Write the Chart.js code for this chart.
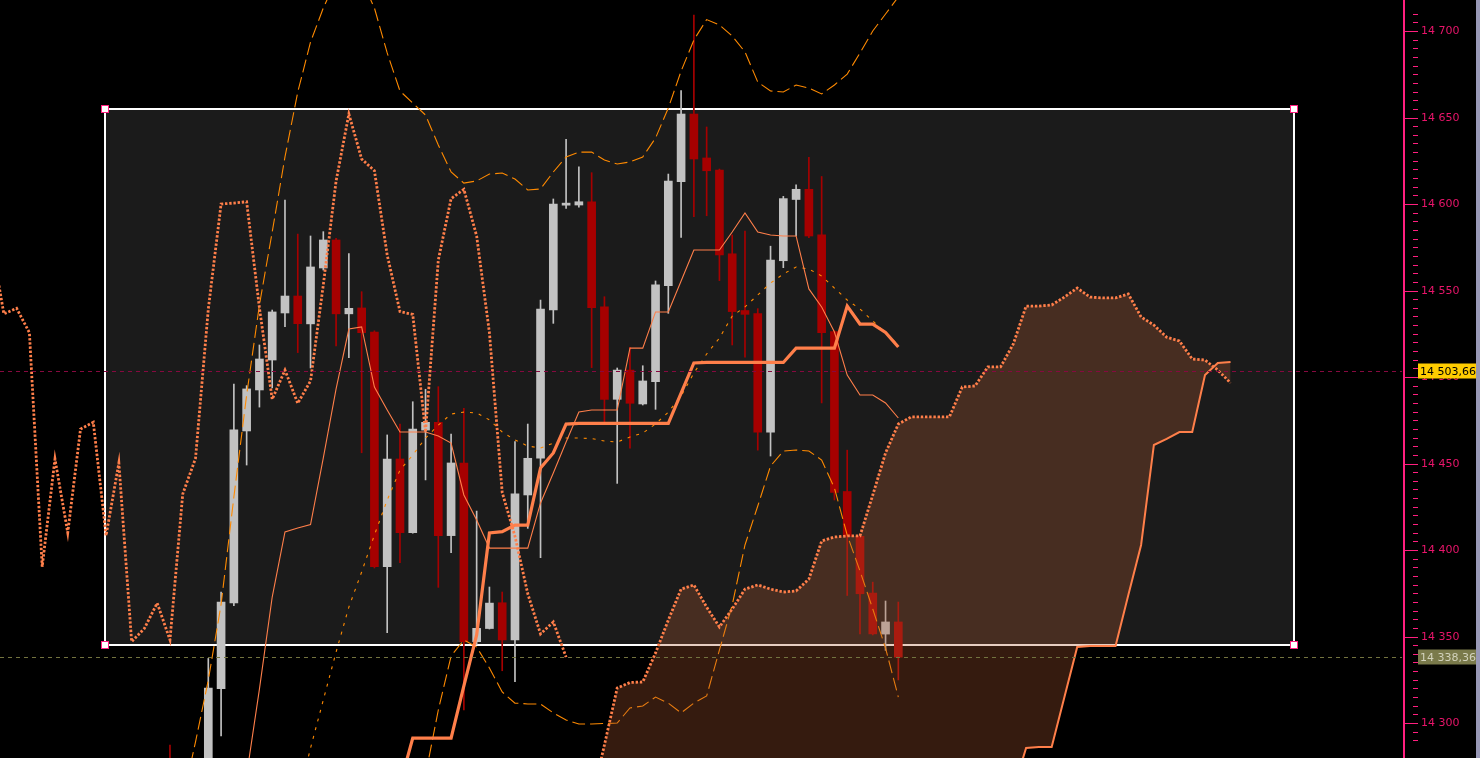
<!DOCTYPE html>
<html>
<head>
<meta charset="utf-8">
<script src="https://cdn.jsdelivr.net/npm/chart.js@4.4.0/dist/chart.umd.min.js"></script>
<style>
html,body{margin:0;padding:0;background:#000;overflow:hidden;}
canvas{display:block;}
</style>
</head>
<body>
<canvas id="c" width="1480" height="758"></canvas>
<script>
// ---------------- DATA ----------------
// bar slots (candle index); chikou is drawn 26 slots back, the cloud 26 slots forward
const slots = [-3,-2,-1,0,1,2,3,4,5,6,7,8,9,10,11,12,13,14,15,16,17,18,19,20,21,22,23,24,25,26,27,28,29,30,31,32,33,34,35,36,37,38,39,40,41,42,43,44,45,46,47,48,49,50,51,52,53,54];
const opens  = [14275,14264,14256,14266,14320.1,14369.7,14469.1,14492.8,14510.1,14537.3,14547.1,14531.0,14563.3,14579.5,14536.8,14540.2,14526.3,14390.6,14452.9,14410.3,14469.6,14474.1,14408.6,14450.6,14347.3,14354.9,14369.8,14348.3,14432.1,14453.3,14539.0,14599.6,14599.7,14601.6,14540.8,14487.4,14504.3,14484.7,14497.6,14553.1,14613.2,14652.3,14626.9,14619.9,14571.5,14538.7,14537.0,14468.4,14567.5,14602.9,14608.8,14582.4,14526.6,14434.1,14408.2,14375.4,14351.7,14358.7];
const highs  = [14287.6,14274,14272,14337.6,14376.0,14496.2,14495.3,14518.8,14539.0,14602.6,14582.9,14581.8,14584.3,14580.5,14571.6,14549.6,14527.0,14466.8,14473.1,14486.0,14493.2,14494.7,14467.3,14482.2,14422.8,14378.9,14376.0,14462.9,14473.1,14544.8,14603.2,14637.7,14621.8,14618.4,14546.7,14505.5,14517.5,14506.8,14555.8,14617.6,14665.8,14709.5,14644.8,14620.5,14582.4,14584.7,14539.8,14575.9,14604.7,14611.3,14627.2,14616.2,14527.0,14458.0,14408.6,14381.7,14370.8,14370.2];
const lows   = [14255,14248,14245,14262,14292.8,14368.1,14449.4,14482.9,14494.0,14529.4,14514.4,14505.5,14562.1,14518.2,14511.4,14456.5,14389.9,14352.5,14392.9,14410.0,14440.8,14378.7,14398.7,14307.8,14345.5,14354.6,14330.5,14324.2,14412.8,14395.8,14531.3,14597.8,14598.4,14505.7,14473.5,14438.8,14459.1,14484.1,14481.6,14537.1,14581.0,14592.9,14593.5,14556.0,14518.8,14511.8,14458.0,14454.6,14563.5,14581.8,14580.8,14485.3,14429.2,14374.0,14351.8,14351.2,14342.3,14325.2];
const closes = [14262,14256,14268,14320.5,14370.2,14469.7,14493.4,14510.7,14537.9,14547.1,14531.1,14563.9,14579.5,14536.8,14540.0,14525.9,14390.6,14452.9,14410.3,14470.2,14474.1,14408.6,14450.6,14347.3,14355.0,14369.6,14348.3,14432.7,14453.3,14539.6,14600.3,14600.8,14601.6,14540.3,14487.4,14504.3,14485.1,14498.0,14553.5,14613.6,14652.3,14626.3,14619.5,14570.8,14538.1,14536.5,14468.4,14567.9,14603.4,14608.8,14581.8,14525.9,14433.6,14408.2,14375.0,14351.8,14358.7,14338.36];

const tenkan = [null,null,null,14235,14245,14258,14270.2,14319.9,14373.1,14410.7,14413.0,14415.0,14453.5,14493.4,14528.0,14529.2,14494.5,14481.2,14468.5,14468.5,14468.5,14466.2,14462.1,14432.1,14417.6,14401.4,14401.4,14401.4,14401.4,14427.5,14444.8,14462.7,14480.1,14481.2,14481.2,14481.2,14517.0,14517.0,14537.9,14537.9,14555.8,14573.7,14573.7,14573.7,14584.1,14595.1,14584.1,14582.4,14581.8,14581.8,14551.2,14540.8,14526.3,14501.4,14489.9,14489.9,14485.3,14476.6];
const kijun  = [null,null,null,14192,14192,14192,14192,14192,14202,14230,14230,14230,14230,14230,14230,14230,14230,14230,14264.5,14291.6,14291.6,14291.6,14291.6,14321.7,14351.2,14410.1,14410.9,14414.7,14414.7,14447.7,14456.4,14473.1,14473.5,14473.5,14473.5,14473.5,14473.5,14473.5,14473.5,14473.5,14491.0,14508.4,14508.7,14508.7,14508.7,14508.7,14508.7,14508.7,14508.7,14517.0,14517.0,14517.0,14517.0,14541.3,14530.9,14530.9,14526.0,14517.6];

const bbUpper = [null,14255.8,14289.4,14325.1,14368.8,14430.9,14489.9,14541.9,14584.1,14627.5,14665.0,14693.9,14713.6,14729.8,14735.5,14729.8,14713.6,14687.6,14665.6,14658.6,14651.7,14634.4,14618.8,14612.4,14613.6,14617.6,14618.2,14614.7,14608.4,14609.0,14618.8,14627.5,14630.3,14630.3,14625.7,14623.4,14624.6,14627.5,14638.4,14655.8,14677.1,14695.1,14706.9,14703.8,14697.4,14688.2,14670.8,14665.6,14665.0,14669.1,14667.3,14663.9,14669.1,14675.4,14687.6,14700.3,14710.1,14720.0];
const bbMid   = [null,null,null,null,null,null,null,null,null,null,14255.8,14285.8,14313.6,14341.3,14367.3,14387.6,14409.0,14429.2,14446.5,14455.2,14465.0,14472.5,14478.9,14480.0,14479.5,14475.5,14468.5,14463.9,14460.4,14459.2,14462.1,14465.0,14465.0,14464.7,14463.3,14462.7,14465.6,14467.9,14473.1,14480.0,14489.3,14502.6,14513.6,14522.8,14535.5,14540.8,14547.7,14554.6,14559.8,14563.9,14562.7,14558.7,14551.7,14544.8,14539.6,14532.7,14525.7,14518.8];
const bbLower = [null,null,null,null,null,null,null,null,null,null,null,null,null,null,null,null,null,null,null,null,14270.2,14307.8,14339.0,14348.3,14344.2,14332.1,14318.2,14311.8,14311.3,14311.3,14306.1,14302.0,14299.7,14299.7,14300.0,14300.3,14309.0,14310.1,14315.3,14311.8,14306.1,14311.8,14315.9,14342.5,14368.5,14403.2,14425.7,14448.8,14457.5,14458.1,14457.5,14452.3,14436.1,14408.9,14388.2,14366.2,14343.6,14315.3];

const cloudSlots = [30,31,32,33,34,35,36,37,38,39,40,41,42,43,44,45,46,47,48,49,50,51,52,53,54,55,56,57,58,59,60,61,62,63,64,65,66,67,68,69,70,71,72,73,74,75,76,77,78,79,80];
const spanA = [14255.8,14287.6,14320.5,14323.7,14324.0,14340.8,14359.8,14377.7,14380.1,14367.3,14355.8,14366.2,14377.7,14380.1,14377.7,14376.0,14376.6,14383.5,14405.5,14407.8,14408.4,14408.4,14432.1,14456.4,14473.1,14477.2,14477.2,14477.2,14477.2,14494.5,14495.1,14506.1,14506.1,14519.4,14541.3,14541.3,14541.9,14546.5,14551.7,14546.5,14546.0,14546.0,14548.3,14535.0,14530.3,14523.3,14521.1,14510.7,14510.1,14504.3,14496.8];
const spanB = [14240,14240,14240,14240,14240,14240,14240,14240,14240,14240,14240,14240,14240,14240,14240,14240,14240,14240,14240,14240,14240,14240,14240,14240,14240,14240,14240,14240,14240,14240,14240,14240,14240,14261.6,14285.9,14286.4,14286.4,14315.3,14344.2,14344.8,14344.8,14344.8,14374.3,14403.2,14461.0,14464.5,14468.5,14468.5,14501.4,14508.4,14509.0];

const chikouShift = 26;
const lastPrice = 14338.36;
const markPrice = 14503.66;
// drawn rectangle (slot / price coordinates)
const zone = { fromSlot: -8.084, toSlot: 84.97, top: 14655.2, bottom: 14345.4 };

// ---------------- STYLE / LAYOUT ----------------
const X_MIN = -16.302, X_MAX = 93.574;
const Y_MIN = 14280.06, Y_MAX = 14718.21;
const UP = '#c2c2c2', DOWN = '#a60000';
const CORAL = '#ff7f4a', BB = '#ff8a00';
const PINK = '#ff1f7f', PINK_TXT = '#e8156a';

const xy = (xs, ys, shift=0) => xs.map((x,i)=>({x:x+shift, y:ys[i]})).filter(p=>p.y!==null && p.y!==undefined);
const candleColors = slots.map((s,i)=> closes[i] >= opens[i] ? UP : DOWN);
const fmtInt = v => String(Math.round(v)).replace(/\B(?=(\d{3})+(?!\d))/g,' ');
const fmtPrice = v => { const [a,b] = v.toFixed(2).split('.'); return a.replace(/\B(?=(\d{3})+(?!\d))/g,' ') + ',' + b; };
const isMul = (v,m) => Math.abs(v/m - Math.round(v/m)) < 1e-6;

Chart.defaults.font.family = 'DejaVu Sans';

const overlay = {
  id: 'overlay',
  beforeDraw(chart){
    const c = chart.ctx; c.save(); c.fillStyle = '#000'; c.fillRect(0,0,chart.width,chart.height); c.restore();
  },
  beforeDatasetsDraw(chart){
    const c = chart.ctx, xs = chart.scales.x, ys = chart.scales.y;
    const x0 = Math.round(xs.getPixelForValue(zone.fromSlot)), x1 = Math.round(xs.getPixelForValue(zone.toSlot));
    const y0 = Math.round(ys.getPixelForValue(zone.top)), y1 = Math.round(ys.getPixelForValue(zone.bottom));
    c.save();
    c.fillStyle = '#1b1b1b'; c.fillRect(x0,y0,x1-x0,y1-y0);
    c.strokeStyle = '#ffffff'; c.lineWidth = 2; c.strokeRect(x0,y0,x1-x0,y1-y0);
    c.restore();
  },
  afterDatasetsDraw(chart){
    const c = chart.ctx, xs = chart.scales.x, ys = chart.scales.y, a = chart.chartArea;
    c.save();
    [[markPrice,'#86093f'],[lastPrice,'#73733f']].forEach(([p,col])=>{
      const y = Math.round(ys.getPixelForValue(p)) + 0.5;
      c.strokeStyle = col; c.lineWidth = 1; c.setLineDash([4,4]);
      c.beginPath(); c.moveTo(a.left,y); c.lineTo(a.right-2,y); c.stroke();
    });
    c.setLineDash([]);
    const x0 = Math.round(xs.getPixelForValue(zone.fromSlot)), x1 = Math.round(xs.getPixelForValue(zone.toSlot));
    const y0 = Math.round(ys.getPixelForValue(zone.top)), y1 = Math.round(ys.getPixelForValue(zone.bottom));
    [[x0,y0],[x1,y0],[x0,y1],[x1,y1]].forEach(([x,y])=>{
      c.fillStyle = '#ffffff'; c.fillRect(x-3.5,y-3.5,7,7);
      c.strokeStyle = PINK; c.lineWidth = 1; c.strokeRect(x-3.5,y-3.5,7,7);
    });
    c.restore();
  },
  afterDraw(chart){
    const c = chart.ctx, ys = chart.scales.y;
    c.save();
    c.font = '11px "DejaVu Sans"'; c.textBaseline = 'middle'; c.textAlign = 'left';
    [[markPrice,'#ffcc00','#000000'],[lastPrice,'#7a7a4b','#d2d2bc']].forEach(([p,bg,fg])=>{
      const y = ys.getPixelForValue(p);
      c.fillStyle = bg; c.fillRect(1418, Math.round(y)-7.5, 60, 15);
      c.fillStyle = fg; c.fillText(fmtPrice(p), 1420, y+0.5);
    });
    c.fillStyle = '#9898b6'; c.fillRect(1476,0,4,chart.height);
    c.restore();
  }
};

const lineDs = (data, color, width, dash, order, extra={}) => Object.assign({
  type:'line', data, borderColor: color, borderWidth: width, borderDash: dash,
  pointRadius: 0, tension: 0, fill: false, order, borderCapStyle:'butt', borderJoinStyle:'miter'
}, extra);

const noPad = s => { s.paddingTop = 0; s.paddingBottom = 0; };

new Chart(document.getElementById('c'), {
  type: 'bar',
  data: {
    datasets: [
      { type:'bar', label:'wick', data: slots.map((x,i)=>({x, y:[lows[i], highs[i]]})), backgroundColor: candleColors, barThickness: 1, grouped:false, borderWidth:0, order: 30 },
      { type:'bar', label:'body', data: slots.map((x,i)=>({x, y:[opens[i], closes[i]]})), backgroundColor: candleColors, barThickness: 8, grouped:false, borderWidth:0, minBarLength: 1, order: 29 },
      lineDs(xy(slots,bbUpper), BB, 1.1, [13,5], 20),
      lineDs(xy(slots,bbMid),   BB, 1.1, [3,6], 19),
      lineDs(xy(slots,bbLower), BB, 1.1, [13,5], 18),
      lineDs(xy(slots,tenkan), CORAL, 1.1, [], 12),
      lineDs(xy(slots,kijun), CORAL, 3.2, [], 11),
      lineDs(xy(slots,closes,-chikouShift), CORAL, 2.8, [2.4,1.8], 10),
      lineDs(xy(cloudSlots,spanA), CORAL, 2.8, [2.4,1.8], 2, { fill: '+1', backgroundColor: 'rgba(176,88,51,0.30)' }),
      lineDs(xy(cloudSlots,spanB), CORAL, 2, [], 1)
    ]
  },
  options: {
    responsive: false,
    animation: false,
    events: [],
    devicePixelRatio: 1,
    layout: { padding: 0 },
    plugins: { legend: { display:false }, tooltip: { enabled:false } },
    scales: {
      x: { type:'linear', min: X_MIN, max: X_MAX, display:false, offset:false },
      ym: {
        type:'linear', position:'right', weight:0, min: Y_MIN, max: Y_MAX,
        afterFit: s => { s.width = 0; noPad(s); },
        border: { display:false },
        grid: { drawOnChartArea:false, drawTicks:true, tickLength:14, tickWidth:1,
                tickColor: ctx => (ctx.tick && isMul(ctx.tick.value,5)) ? PINK : 'rgba(0,0,0,0)',
                tickBorderDash: [0,9,5,40] },
        ticks: { display:false, stepSize:5, autoSkip:false }
      },
      y: {
        type:'linear', position:'right', weight:1, min: Y_MIN, max: Y_MAX,
        afterFit: s => { s.width = 76; noPad(s); },
        border: { display:true, color: PINK, width: 2 },
        grid: { drawOnChartArea:false, drawTicks:true, tickLength:14, tickWidth:1,
                tickColor: ctx => (ctx.tick && isMul(ctx.tick.value,50)) ? PINK : 'rgba(0,0,0,0)' },
        ticks: { stepSize:50, autoSkip:false, padding:3, color: PINK_TXT,
                 font: { family:'DejaVu Sans', size:11 },
                 callback: v => isMul(v,50) ? fmtInt(v) : '' }
      }
    }
  },
  plugins: [overlay]
});
</script>
</body>
</html>
